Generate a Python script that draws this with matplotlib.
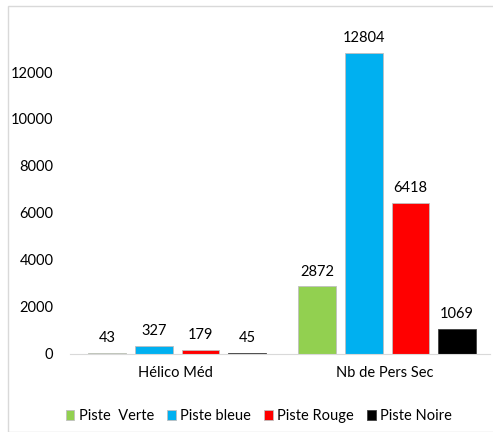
import numpy as np
import matplotlib
matplotlib.use("Agg")
import matplotlib.pyplot as plt
from matplotlib.patches import Rectangle

categories = ["Hélico Méd", "Nb de Pers Sec"]
series = ["Piste  Verte", "Piste bleue", "Piste Rouge", "Piste Noire"]
piste_verte = [43, 2872]
piste_bleue = [327, 12804]
piste_rouge = [179, 6418]
piste_noire = [45, 1069]
colors = ["#92D050", "#00B0F0", "#FF0000", "#000000"]

plt.rcParams['font.family'] = ['Lato', 'DejaVu Sans']

fig = plt.figure(figsize=(4.93, 4.32), dpi=100)
fig.patches.append(Rectangle((8 / 493, 0), 1, 1 - 6 / 432, transform=fig.transFigure,
                             fill=False, edgecolor="#d9d9d9", linewidth=1))
ax = fig.add_axes([0.142, 0.181, 0.852, 0.761])

x = np.arange(len(categories))
width = 0.18
step = 0.222
values = [piste_verte, piste_bleue, piste_rouge, piste_noire]
for i, (name, vals, c) in enumerate(zip(series, values, colors)):
    pos = x + (i - 1.5) * step + 0.01
    bars = ax.bar(pos, vals, width, color=c, label=name,
                  edgecolor="#bfbfbf" if c != "#000000" else "#404040", linewidth=0.6)
    for b, v in zip(bars, vals):
        ax.text(b.get_x() + b.get_width() / 2, v + 330, str(v),
                ha="center", va="bottom", fontsize=10.5, color="#000000")

ax.set_xlim(-0.5, 1.5)
ax.set_ylim(0, 14000)
ax.set_yticks(range(0, 14000, 2000))
ax.set_xticks(x)
ax.set_xticklabels(categories)
ax.tick_params(axis="both", length=0, labelsize=10.5, pad=9)
ax.tick_params(axis="y", pad=12)
for s in ["top", "right", "left"]:
    ax.spines[s].set_visible(False)
ax.spines["bottom"].set_color("#d9d9d9")

fig.legend(loc="lower center", bbox_to_anchor=(0.525, -0.01), ncol=4, frameon=False,
           fontsize=10.5, handlelength=0.6, handleheight=0.6, handletextpad=0.3,
           columnspacing=0.9)

fig.savefig("out.png", dpi=100)
